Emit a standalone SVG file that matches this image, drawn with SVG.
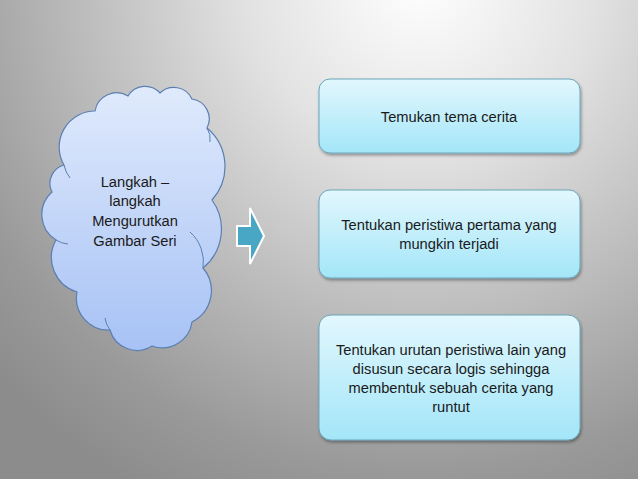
<svg xmlns="http://www.w3.org/2000/svg" width="638" height="479" viewBox="0 0 638 479">
<defs>
<radialGradient id="bg" gradientUnits="userSpaceOnUse" cx="420" cy="-20" r="580">
<stop offset="0" stop-color="#ffffff"/>
<stop offset="0.3" stop-color="#e2e2e2"/>
<stop offset="0.85" stop-color="#999999"/>
<stop offset="1" stop-color="#8c8c8c"/>
</radialGradient>
<linearGradient id="boxg" x1="0" y1="0" x2="0" y2="1">
<stop offset="0" stop-color="#e2f7fd"/>
<stop offset="1" stop-color="#a3e6f8"/>
</linearGradient>
<linearGradient id="cloudg" x1="0" y1="0" x2="0" y2="1">
<stop offset="0" stop-color="#e0eafc"/>
<stop offset="1" stop-color="#a7c2f5"/>
</linearGradient>
<filter id="sh" x="-10%" y="-10%" width="120%" height="130%">
<feDropShadow dx="1" dy="2" stdDeviation="1.5" flood-color="#000" flood-opacity="0.35"/>
</filter>
</defs>
<style>
.box{fill:url(#boxg);stroke:#6aa6ba;stroke-width:1;filter:url(#sh)}
.t{font-family:"Liberation Sans",Arial,sans-serif;font-size:14.7px;fill:#1a1a1a;text-anchor:middle}
.cloud{fill:url(#cloudg);stroke:#5b7fb2;stroke-width:1.2}
.inner{fill:none;stroke:#5b7fb2;stroke-width:1}
</style>
<rect x="0" y="0" width="638" height="479" fill="url(#bg)"/>

<g id="cloud">
<path class="cloud" d="M64,165 A36,36 0 0 1 95,111 A22,22 0 0 1 128,96 A20,20 0 0 1 160,93 A20,20 0 0 1 192,99 A20,20 0 0 1 207,128 A50,50 0 0 1 212,200 A50,50 0 0 1 203,268 A35,35 0 0 1 192,322 A30,30 0 0 1 152,346 A28,28 0 0 1 110,330 A32,32 0 0 1 77,292 A36,36 0 0 1 56,240 A30,30 0 0 1 52,192 A19,19 0 0 1 64,165 Z"/>
<path class="inner" d="M64,165 A30,30 0 0 0 70,178"/>
<path class="inner" d="M207,128 A20,20 0 0 1 210,142"/>
<path class="inner" d="M203,268 A40,40 0 0 0 190,232"/>
<path class="inner" d="M56,240 A26,26 0 0 0 68,244"/>
<path class="inner" d="M110,330 A25,25 0 0 1 105,318"/>
<text class="t" x="135" y="187">Langkah –</text>
<text class="t" x="135" y="206">langkah</text>
<text class="t" x="135" y="226">Mengurutkan</text>
<text class="t" x="135" y="246">Gambar Seri</text>
</g>

<g id="connectors">
<path d="M237,226 L250,226 L250,208 L264,236 L250,264 L250,246 L237,246 Z" fill="#48a7c5" stroke="#ffffff" stroke-width="2" stroke-linejoin="miter"/>
</g>

<g id="box1">
<rect class="box" x="319" y="79" width="261" height="74" rx="11"/>
<text class="t" x="449" y="122">Temukan tema cerita</text>
</g>
<g id="box2">
<rect class="box" x="319" y="190" width="261" height="88" rx="11"/>
<text class="t" x="449" y="230">Tentukan peristiwa pertama yang</text>
<text class="t" x="449" y="249">mungkin terjadi</text>
</g>
<g id="box3">
<rect class="box" x="319" y="315" width="261" height="125" rx="12"/>
<text class="t" x="451" y="355">Tentukan urutan peristiwa lain yang</text>
<text class="t" x="451" y="374">disusun secara logis sehingga</text>
<text class="t" x="451" y="393">membentuk sebuah cerita yang</text>
<text class="t" x="451" y="412">runtut</text>
</g>
</svg>
